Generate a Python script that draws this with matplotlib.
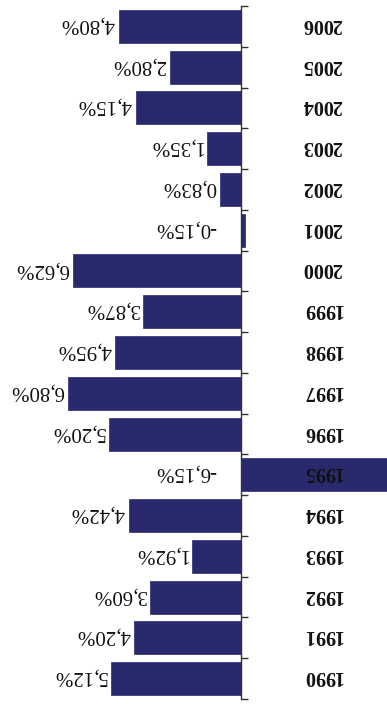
import matplotlib
matplotlib.use("Agg")
import matplotlib.pyplot as plt
import numpy as np
from matplotlib.transforms import blended_transform_factory

years = ["1990", "1991", "1992", "1993", "1994", "1995", "1996", "1997", "1998",
         "1999", "2000", "2001", "2002", "2003", "2004", "2005", "2006"]
values = [5.12, 4.20, 3.60, 1.92, 4.42, -6.15, 5.20, 6.80, 4.95,
          3.87, 6.62, -0.15, 0.83, 1.35, 4.15, 2.80, 4.80]
labels = [f"{v:.2f}%".replace(".", ",") for v in values]

W, H = 387, 704
fig = plt.figure(figsize=(W / 100, H / 100), dpi=100)
ax = fig.add_axes([0, 1 - 699 / H, 1, (699 - 6) / H])

pos = np.arange(len(years))
bar_color = "#29296e"
ax.barh(pos, values, height=0.81, color=bar_color, edgecolor=bar_color, linewidth=0.5, zorder=2)

px_per_unit = 25.4
ax.set_xlim(241 / px_per_unit, -(W - 241) / px_per_unit)
ax.set_ylim(-0.5, len(years) - 0.5)

for s in ["left", "top", "bottom"]:
    ax.spines[s].set_visible(False)
ax.spines["right"].set_position(("data", 0))
ax.spines["right"].set_color("#333333")
ax.spines["right"].set_linewidth(1.0)
ax.spines["right"].set_zorder(3)
ax.yaxis.tick_right()
ax.set_yticks(np.arange(-0.5, len(years), 1.0))
ax.set_yticklabels([])
ax.tick_params(axis="y", direction="out", length=5, width=1.0, color="#333333")
ax.set_xticks([])

serif = ["Liberation Serif", "DejaVu Serif"]
trans = blended_transform_factory(ax.transAxes, ax.transData)
for p, y in zip(pos, years):
    ax.annotate(y, xy=(322 / W, p), xycoords=trans,
                rotation=180, rotation_mode="anchor", ha="center", va="center_baseline",
                fontsize=14.5, fontweight="bold", family=serif, color="#111111", zorder=4)

for p, v, lab in zip(pos, values, labels):
    if v >= 0:
        x, off = v, -4
    else:
        x, off = 0, -25
    ax.annotate(lab, xy=(x, p), xytext=(off * 0.72, 0), textcoords="offset points",
                rotation=180, rotation_mode="anchor", ha="left", va="center_baseline",
                fontsize=15, family=serif, color="#111111", zorder=4)

fig.savefig("out.png", dpi=100)
